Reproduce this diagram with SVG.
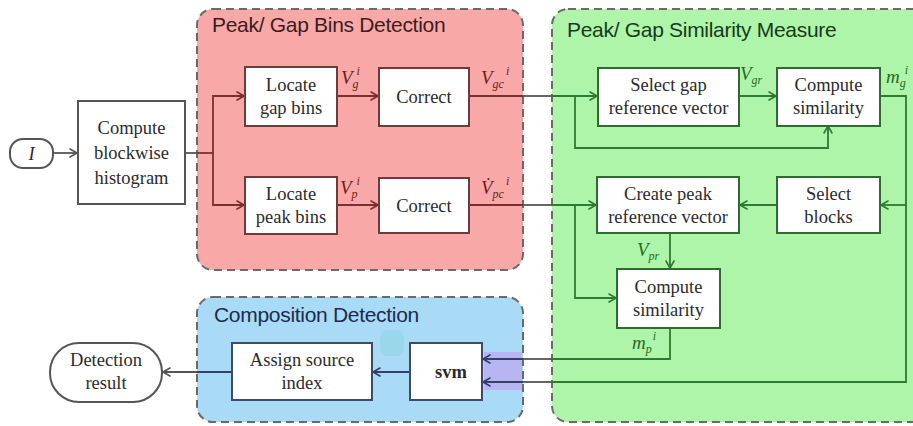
<svg xmlns="http://www.w3.org/2000/svg" width="913" height="426" viewBox="0 0 913 426">
  <style>
    .bg { fill: #ffffff; }
    .grp { stroke: #6a6a6a; stroke-width: 2; stroke-dasharray: 8 5; }
    .g-red { fill: #f8a8a7; }
    .g-green { fill: #aef5aa; }
    .g-blue { fill: #a9dbf7; }
    .box { fill: #ffffff; stroke-width: 2; }
    .bx-gray { stroke: #555555; }
    .bx-red { stroke: #6e3a3a; }
    .bx-green { stroke: #2f6a31; }
    .bx-blue { stroke: #3c4a6c; }
    .title { font-family: "Liberation Sans", Arial, sans-serif; font-size: 21px; letter-spacing: -0.3px; }
    .t-red { fill: #3b1d1d; }
    .t-green { fill: #183a1a; }
    .t-blue { fill: #1c2c4c; }
    .txt { font-family: "Liberation Serif", "Times New Roman", serif; font-size: 18.5px; fill: #2b2b2b; text-anchor: middle; }
    .bold { font-weight: bold; }
    .lbl { font-family: "Liberation Serif", "Times New Roman", serif; font-style: italic; font-size: 19px; }
    .sub, .sup { font-size: 12px; }
    .l-red { fill: #6e1f1f; }
    .l-green { fill: #1f6b24; }
    .w { fill: none; stroke-width: 1.8; }
    .w-gray { stroke: #555555; }
    .w-red { stroke: #7a2f2f; }
    .w-green { stroke: #2e7a30; }
    .w-navy { stroke: #34406a; }
    .ah { fill: none; stroke-width: 1.6; stroke-linecap: round; stroke-linejoin: round; }
  </style>
  <defs>
    <marker id="ah-gray" viewBox="0 0 10 10" refX="8" refY="5" markerWidth="10" markerHeight="10" markerUnits="userSpaceOnUse" orient="auto">
      <path class="ah" d="M1,1 L8,5 L1,9" stroke="#555555"/>
    </marker>
    <marker id="ah-red" viewBox="0 0 10 10" refX="8" refY="5" markerWidth="10" markerHeight="10" markerUnits="userSpaceOnUse" orient="auto">
      <path class="ah" d="M1,1 L8,5 L1,9" stroke="#7a2f2f"/>
    </marker>
    <marker id="ah-green" viewBox="0 0 10 10" refX="8" refY="5" markerWidth="10" markerHeight="10" markerUnits="userSpaceOnUse" orient="auto">
      <path class="ah" d="M1,1 L8,5 L1,9" stroke="#2e7a30"/>
    </marker>
    <marker id="ah-navy" viewBox="0 0 10 10" refX="8" refY="5" markerWidth="10" markerHeight="10" markerUnits="userSpaceOnUse" orient="auto">
      <path class="ah" d="M1,1 L8,5 L1,9" stroke="#34406a"/>
    </marker>
  </defs>

  <rect class="bg" x="0" y="0" width="913" height="426"/>

  <!-- stage panels -->
  <g id="panel-bins">
    <rect class="grp g-red" x="197" y="9" width="326" height="261" rx="16"/>
    <text class="title t-red" x="212" y="32">Peak/ Gap Bins Detection</text>
  </g>
  <g id="panel-similarity">
    <rect class="grp g-green" x="552" y="9" width="380" height="413" rx="16"/>
    <text class="title t-green" x="567" y="37">Peak/ Gap Similarity Measure</text>
  </g>
  <g id="panel-composition">
    <rect class="grp g-blue" x="197" y="297" width="326" height="125" rx="16"/>
    <text class="title t-blue" x="214" y="322">Composition Detection</text>
    <!-- tinted patches around the svm inputs -->
    <rect x="484" y="352" width="38" height="38" fill="#b8b6f2"/>
    <rect x="380" y="330" width="24" height="26" rx="8" fill="#93d6e6" opacity="0.7"/>
  </g>

  <!-- connectors -->
  <g id="connectors">
    <!-- I -> histogram -->
    <path class="w w-gray" d="M53,153 H77" marker-end="url(#ah-gray)"/>
    <!-- histogram fan-out -->
    <path class="w w-gray" d="M185,153 H197"/>
    <path class="w w-red" d="M197,153 H213"/>
    <path class="w w-red" d="M213,153 V96 H244" marker-end="url(#ah-red)"/>
    <path class="w w-red" d="M213,153 V205 H244" marker-end="url(#ah-red)"/>
    <!-- locate -> correct -->
    <path class="w w-red" d="M337,96 H378" marker-end="url(#ah-red)"/>
    <path class="w w-red" d="M337,205 H378" marker-end="url(#ah-red)"/>
    <!-- corrected gap vector -> gap reference -->
    <path class="w w-red" d="M469,96 H523"/>
    <path class="w w-gray" d="M523,96 H552"/>
    <path class="w w-green" d="M552,96 H597" marker-end="url(#ah-green)"/>
    <!-- corrected peak vector -> peak reference -->
    <path class="w w-red" d="M469,205 H523"/>
    <path class="w w-gray" d="M523,205 H552"/>
    <path class="w w-green" d="M552,205 H596" marker-end="url(#ah-green)"/>
    <!-- gap reference -> gap similarity -->
    <path class="w w-green" d="M739,96 H776" marker-end="url(#ah-green)"/>
    <!-- gap vector bypass into gap similarity -->
    <path class="w w-green" d="M575,96 V148 H828 V126" marker-end="url(#ah-green)"/>
    <!-- gap similarity output bus -->
    <path class="w w-green" d="M880,96 H906 V382 H552"/>
    <path class="w w-green" d="M906,205 H881" marker-end="url(#ah-green)"/>
    <!-- select blocks -> peak reference -->
    <path class="w w-green" d="M776,205 H740" marker-end="url(#ah-green)"/>
    <!-- peak reference -> peak similarity -->
    <path class="w w-green" d="M670,233 V268" marker-end="url(#ah-green)"/>
    <!-- peak vector bypass into peak similarity -->
    <path class="w w-green" d="M575,205 V298 H616" marker-end="url(#ah-green)"/>
    <!-- peak similarity -> svm -->
    <path class="w w-green" d="M670,328 V359 H552"/>
    <path class="w w-gray" d="M552,359 H523"/>
    <path class="w w-navy" d="M523,359 H483" marker-end="url(#ah-navy)"/>
    <!-- gap similarity -> svm -->
    <path class="w w-gray" d="M552,382 H523"/>
    <path class="w w-navy" d="M523,382 H483" marker-end="url(#ah-navy)"/>
    <!-- svm -> assign -->
    <path class="w w-navy" d="M410,372 H373" marker-end="url(#ah-navy)"/>
    <!-- assign -> detection result -->
    <path class="w w-navy" d="M232,372 H197"/>
    <path class="w w-gray" d="M197,372 H163" marker-end="url(#ah-gray)"/>
  </g>

  <!-- nodes -->
  <g id="node-input">
    <rect class="box bx-gray" x="10" y="139" width="43" height="29" rx="13"/>
    <text class="txt" x="31.5" y="160" font-style="italic">I</text>
  </g>
  <g id="node-histogram">
    <rect class="box bx-gray" x="78" y="101" width="107" height="103"/>
    <text class="txt" x="131.5" y="134">Compute</text>
    <text class="txt" x="131.5" y="159">blockwise</text>
    <text class="txt" x="131.5" y="184">histogram</text>
  </g>
  <g id="node-locate-gap">
    <rect class="box bx-red" x="245" y="67" width="92" height="59"/>
    <text class="txt" x="291" y="91">Locate</text>
    <text class="txt" x="291" y="114">gap bins</text>
  </g>
  <g id="node-correct-gap">
    <rect class="box bx-red" x="379" y="68" width="90" height="58"/>
    <text class="txt" x="424" y="103">Correct</text>
  </g>
  <g id="node-locate-peak">
    <rect class="box bx-red" x="245" y="177" width="92" height="57"/>
    <text class="txt" x="291" y="200">Locate</text>
    <text class="txt" x="291" y="223">peak bins</text>
  </g>
  <g id="node-correct-peak">
    <rect class="box bx-red" x="379" y="178" width="90" height="55"/>
    <text class="txt" x="424" y="212">Correct</text>
  </g>
  <g id="node-gap-reference">
    <rect class="box bx-green" x="598" y="68" width="141" height="58"/>
    <text class="txt" x="668.5" y="91">Select gap</text>
    <text class="txt" x="668.5" y="114">reference vector</text>
  </g>
  <g id="node-gap-similarity">
    <rect class="box bx-green" x="777" y="68" width="103" height="58"/>
    <text class="txt" x="828.5" y="91">Compute</text>
    <text class="txt" x="828.5" y="114">similarity</text>
  </g>
  <g id="node-peak-reference">
    <rect class="box bx-green" x="597" y="177" width="142" height="56"/>
    <text class="txt" x="668" y="200">Create peak</text>
    <text class="txt" x="668" y="223">reference vector</text>
  </g>
  <g id="node-select-blocks">
    <rect class="box bx-green" x="777" y="177" width="103" height="56"/>
    <text class="txt" x="828.5" y="200">Select</text>
    <text class="txt" x="828.5" y="223">blocks</text>
  </g>
  <g id="node-peak-similarity">
    <rect class="box bx-green" x="617" y="269" width="103" height="59"/>
    <text class="txt" x="668.5" y="293">Compute</text>
    <text class="txt" x="668.5" y="316">similarity</text>
  </g>
  <g id="node-svm">
    <rect class="box bx-blue" x="410" y="343" width="72" height="57"/>
    <text class="txt bold" x="451" y="378">svm</text>
  </g>
  <g id="node-assign">
    <rect class="box bx-blue" x="232" y="343" width="140" height="57"/>
    <text class="txt" x="302" y="366">Assign source</text>
    <text class="txt" x="302" y="389">index</text>
  </g>
  <g id="node-result">
    <rect class="box bx-gray" x="50" y="343" width="112" height="59" rx="29"/>
    <text class="txt" x="106" y="366">Detection</text>
    <text class="txt" x="106" y="389">result</text>
  </g>

  <!-- signal labels -->
  <g id="labels">
    <text class="lbl l-red" x="341" y="84">V<tspan class="sub" dy="4">g</tspan><tspan class="sup" dx="-2" dy="-13">i</tspan></text>
    <text class="lbl l-red" x="481" y="84">V<tspan class="sub" dy="4">gc</tspan><tspan class="sup" dx="2" dy="-13">i</tspan></text>
    <text class="lbl l-red" x="340" y="194">V<tspan class="sub" dy="4">p</tspan><tspan class="sup" dx="-1" dy="-13">i</tspan></text>
    <text class="lbl l-red" x="481" y="194">V&#x307;<tspan class="sub" dy="4">pc</tspan><tspan class="sup" dx="2" dy="-13">i</tspan></text>
    <text class="lbl l-green" x="740" y="80">V<tspan class="sub" dy="4">gr</tspan></text>
    <text class="lbl l-green" x="886" y="83">m<tspan class="sub" dy="4">g</tspan><tspan class="sup" dx="-1" dy="-13">i</tspan></text>
    <text class="lbl l-green" x="637" y="256">V<tspan class="sub" dy="4">pr</tspan></text>
    <text class="lbl l-green" x="632" y="349">m<tspan class="sub" dy="4">p</tspan><tspan class="sup" dx="1" dy="-13">i</tspan></text>
  </g>
</svg>
